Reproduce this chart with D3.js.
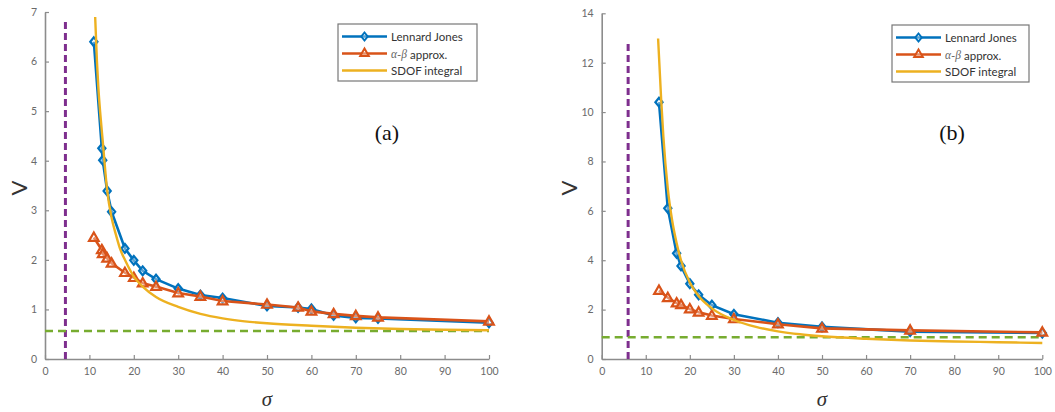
<!DOCTYPE html>
<html><head><meta charset="utf-8">
<script src="https://cdn.jsdelivr.net/npm/d3@7"></script>
<style>
body{margin:0;background:#fff;}
svg{display:block;}
</style></head>
<body><svg id="c" width="1055" height="412"></svg>
<script>
// ---------- DATA ----------
const seriesNames = ["Lennard Jones", "α-β approx.", "SDOF integral"];
const panelLabels = ["(a)", "(b)"];

// Panel (a)
const sigmaA = [11, 12.8, 13, 14, 15, 18, 20, 22, 25, 30, 35, 40, 50, 57, 60, 65, 70, 75, 100];
const ljA    = [6.4, 4.25, 4.01, 3.39, 2.97, 2.23, 1.99, 1.78, 1.61, 1.42, 1.29, 1.23, 1.07, 1.04, 1.01, 0.88, 0.83, 0.82, 0.73];
const abA    = [2.45, 2.2, 2.12, 2.03, 1.93, 1.74, 1.64, 1.53, 1.46, 1.33, 1.26, 1.17, 1.10, 1.04, 0.96, 0.91, 0.87, 0.84, 0.76];
const sdofSigmaA = [11.3, 11.7, 12, 12.5, 13, 14, 15, 16, 17, 18, 20, 22, 25, 30, 35, 40, 45, 50, 60, 70, 80, 90, 100];
const sdofA      = [6.9, 6.0, 5.5, 4.9, 4.4, 3.4, 2.85, 2.5, 2.2, 2.0, 1.66, 1.46, 1.25, 1.05, 0.91, 0.82, 0.76, 0.72, 0.67, 0.63, 0.605, 0.59, 0.58];
const asymptoteXA = 4.6;   // purple dashed vertical
const asymptoteTopA = 6.8;
const limitYA = 0.565;     // green dashed horizontal

// Panel (b)
const sigmaB = [13, 15, 17, 18, 20, 22, 25, 30, 40, 50, 70, 100];
const ljB    = [10.4, 6.1, 4.28, 3.77, 3.05, 2.6, 2.18, 1.81, 1.47, 1.3, 1.11, 1.05];
const abB    = [2.77, 2.48, 2.26, 2.19, 2.02, 1.89, 1.76, 1.62, 1.41, 1.24, 1.16, 1.08];
const sdofSigmaB = [12.8, 13.5, 14, 15, 16, 17, 18, 20, 22, 25, 30, 35, 40, 45, 50, 60, 70, 80, 90, 100];
const sdofB      = [12.98, 10.5, 9.0, 6.9, 5.6, 4.7, 4.0, 3.1, 2.55, 2.05, 1.58, 1.3, 1.12, 1.0, 0.92, 0.82, 0.75, 0.71, 0.68, 0.65];
const asymptoteXB = 6.0;
const asymptoteTopB = 12.9;
const limitYB = 0.88;

const xTicks = [0, 10, 20, 30, 40, 50, 60, 70, 80, 90, 100];
const yTicksA = [0, 1, 2, 3, 4, 5, 6, 7];
const yTicksB = [0, 2, 4, 6, 8, 10, 12, 14];

// ---------- STYLE ----------
const C = {blue:"#0072BD", orange:"#D95319", yellow:"#EDB120", purple:"#7E2F8E", green:"#77AC30", axis:"#8c8c8c", tick:"#6a6a6a"};

const svg = d3.select("#c");
const diamond = (w,h)=>`M0,${-h}L${w},0L0,${h}L${-w},0Z`;

function panel(cfg){
  const g = svg.append("g");
  const x = d3.scaleLinear().domain([0,100]).range([cfg.x0, cfg.x1]);
  const y = d3.scaleLinear().domain([0,cfg.ymax]).range([cfg.yb, cfg.yt]);

  const xa = d3.axisBottom(x).tickValues(xTicks).tickFormat(d3.format("d")).tickSizeInner(-4).tickSizeOuter(0).tickPadding(9);
  const ya = d3.axisLeft(y).tickValues(cfg.yTicks).tickFormat(d3.format("d")).tickSizeInner(-4).tickSizeOuter(0).tickPadding(8);
  const gx = g.append("g").attr("transform",`translate(0,${cfg.yb})`).call(xa);
  const gy = g.append("g").attr("transform",`translate(${cfg.x0},0)`).call(ya);
  [gx,gy].forEach(a=>{
    a.select(".domain").attr("stroke",C.axis).attr("stroke-width",1.6);
    a.selectAll(".tick line").attr("stroke",C.axis).attr("stroke-width",1.2);
    a.selectAll(".tick text").attr("fill",C.tick).attr("font-family","Lato, 'Open Sans', sans-serif").attr("font-size",10.5);
  });

  g.append("line").attr("x1",x(cfg.asX)).attr("x2",x(cfg.asX))
    .attr("y1",y(0)).attr("y2",y(cfg.asTop))
    .attr("stroke",C.purple).attr("stroke-width",3).attr("stroke-dasharray","7,4");
  g.append("line").attr("x1",x(0)).attr("x2",x(100))
    .attr("y1",y(cfg.limY)).attr("y2",y(cfg.limY))
    .attr("stroke",C.green).attr("stroke-width",2.5).attr("stroke-dasharray","8,5");

  const line = d3.line().x(d=>x(d[0])).y(d=>y(d[1]));
  const smooth = d3.line().x(d=>x(d[0])).y(d=>y(d[1])).curve(d3.curveMonotoneX);

  const lj = cfg.sig.map((s,i)=>[s,cfg.lj[i]]);
  const ab = cfg.sig.map((s,i)=>[s,cfg.ab[i]]);
  const sd = cfg.sdSig.map((s,i)=>[s,cfg.sd[i]]);

  g.append("path").datum(lj).attr("d",line).attr("fill","none").attr("stroke",C.blue).attr("stroke-width",2.6);
  g.selectAll(".dm").data(lj).enter().append("path")
    .attr("transform",d=>`translate(${x(d[0])},${y(d[1])})`)
    .attr("d",diamond(3.6,4.4))
    .attr("fill","rgba(255,255,255,0.35)").attr("stroke",C.blue).attr("stroke-width",2.2);

  g.append("path").datum(ab).attr("d",line).attr("fill","none").attr("stroke",C.orange).attr("stroke-width",2.6);
  g.selectAll(".tr").data(ab).enter().append("path")
    .attr("transform",d=>`translate(${x(d[0])},${y(d[1])+0.5})`)
    .attr("d",d3.symbol(d3.symbolTriangle,40)())
    .attr("fill","rgba(255,255,255,0.35)").attr("stroke",C.orange).attr("stroke-width",2.2);

  g.append("path").datum(sd).attr("d",smooth).attr("fill","none").attr("stroke",C.yellow).attr("stroke-width",2.4);

  g.append("text").attr("transform",`translate(${cfg.vx},188) rotate(-90)`).attr("text-anchor","middle")
    .attr("dominant-baseline","central").attr("font-family","Lato, 'Open Sans', sans-serif").attr("font-size",22).attr("fill","#333").text("V");
  g.append("text").attr("x",cfg.sx).attr("y",406).attr("text-anchor","middle")
    .attr("font-family","'Liberation Serif', 'DejaVu Serif', serif").attr("font-style","italic").attr("font-size",21).attr("fill","#333").text("σ");

  g.append("text").attr("x",cfg.lx).attr("y",140).attr("text-anchor","middle")
    .attr("font-family","'Liberation Serif', serif").attr("font-size",22).attr("fill","#111").text(cfg.label);

  const L = cfg.leg;
  g.append("rect").attr("x",L.x).attr("y",L.y).attr("width",L.w).attr("height",L.h)
    .attr("fill","#fff").attr("stroke","#777").attr("stroke-width",1.2);
  const rows = [
    {c:C.blue, sym:"d", name:seriesNames[0]},
    {c:C.orange, sym:"t", name:seriesNames[1]},
    {c:C.yellow, sym:null, name:seriesNames[2]}
  ];
  rows.forEach((r,i)=>{
    const yy = L.y + 12.5 + i*17;
    g.append("line").attr("x1",L.x+4).attr("x2",L.x+49).attr("y1",yy).attr("y2",yy)
      .attr("stroke",r.c).attr("stroke-width",2.6);
    if(r.sym) g.append("path").attr("transform",`translate(${L.x+26.5},${yy})`)
      .attr("d", r.sym==="d" ? diamond(3.2,4) : d3.symbol(d3.symbolTriangle,32)())
      .attr("fill","rgba(255,255,255,0.35)").attr("stroke",r.c).attr("stroke-width",2);
    const t = g.append("text").attr("x",L.x+53).attr("y",yy).attr("dominant-baseline","central")
      .attr("font-family","Lato, 'Open Sans', sans-serif").attr("font-size",11.5).attr("fill","#333");
    if(i===1){
      t.append("tspan").attr("font-family","'Liberation Serif', serif").attr("font-style","italic").attr("fill","#666").text("α");
      t.append("tspan").attr("fill","#666").text("-");
      t.append("tspan").attr("font-family","'Liberation Serif', serif").attr("font-style","italic").attr("fill","#666").text("β");
      t.append("tspan").text(" approx.");
    } else t.text(r.name);
  });
}

panel({x0:45, x1:489, yb:359, yt:12, ymax:7, yTicks:yTicksA,
  sig:sigmaA, lj:ljA, ab:abA, sdSig:sdofSigmaA, sd:sdofA,
  asX:asymptoteXA, asTop:asymptoteTopA, limY:limitYA,
  vx:18, sx:267, lx:387, label:panelLabels[0],
  leg:{x:338, y:24, w:139, h:57}});

panel({x0:601.7, x1:1042.3, yb:359, yt:13.3, ymax:14, yTicks:yTicksB,
  sig:sigmaB, lj:ljB, ab:abB, sdSig:sdofSigmaB, sd:sdofB,
  asX:asymptoteXB, asTop:asymptoteTopB, limY:limitYB,
  vx:568, sx:822, lx:952, label:panelLabels[1],
  leg:{x:892, y:25, w:137, h:57}});
</script>
</body></html>
